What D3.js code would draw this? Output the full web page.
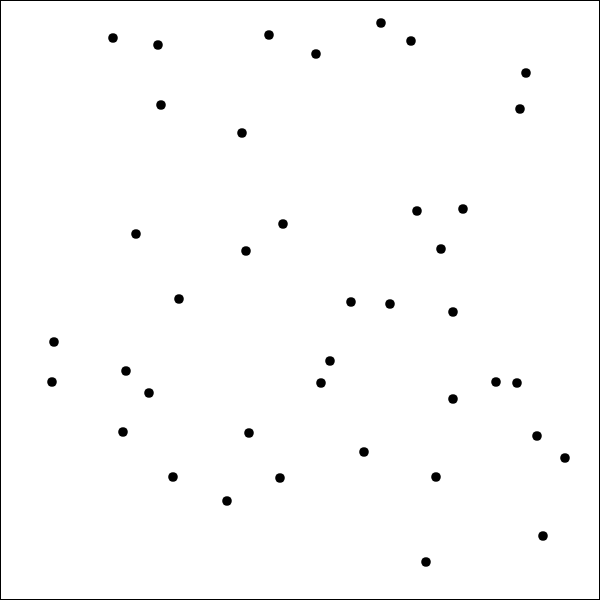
<!DOCTYPE html>
<html><head><meta charset="utf-8">
<script src="https://cdn.jsdelivr.net/npm/d3@7"></script>
<style>html,body{margin:0;padding:0;background:#fff;}svg{display:block;}</style>
</head><body>
<script>
const xValues = [113,158,269,316,381,411,526,520,161,242,417,463,283,136,246,441,179,351,390,453,54,330,126,52,321,149,496,517,453,123,249,537,364,565,173,280,436,227,543,426];
const yValues = [38,45,35,54,23,41,73,109,105,133,211,209,224,234,251,249,299,302,304,312,342,361,371,382,383,393,382,383,399,432,433,436,452,458,477,478,477,501,536,562];

const W = 600, H = 600;
const svg = d3.select("body").append("svg").attr("width", W).attr("height", H);
const x = d3.scaleLinear().domain([0, 600]).range([0, W]);
const y = d3.scaleLinear().domain([0, 600]).range([0, H]);

svg.append("rect").attr("x", 0.5).attr("y", 0.5).attr("width", W - 1).attr("height", H - 1)
  .attr("fill", "#fff").attr("stroke", "#000").attr("stroke-width", 1);

const pts = xValues.map((v, i) => ({x: v, y: yValues[i]}));
svg.selectAll("circle").data(pts).enter().append("circle")
  .attr("cx", d => x(d.x)).attr("cy", d => y(d.y)).attr("r", 4.8).attr("fill", "#000");
</script>
</body></html>
